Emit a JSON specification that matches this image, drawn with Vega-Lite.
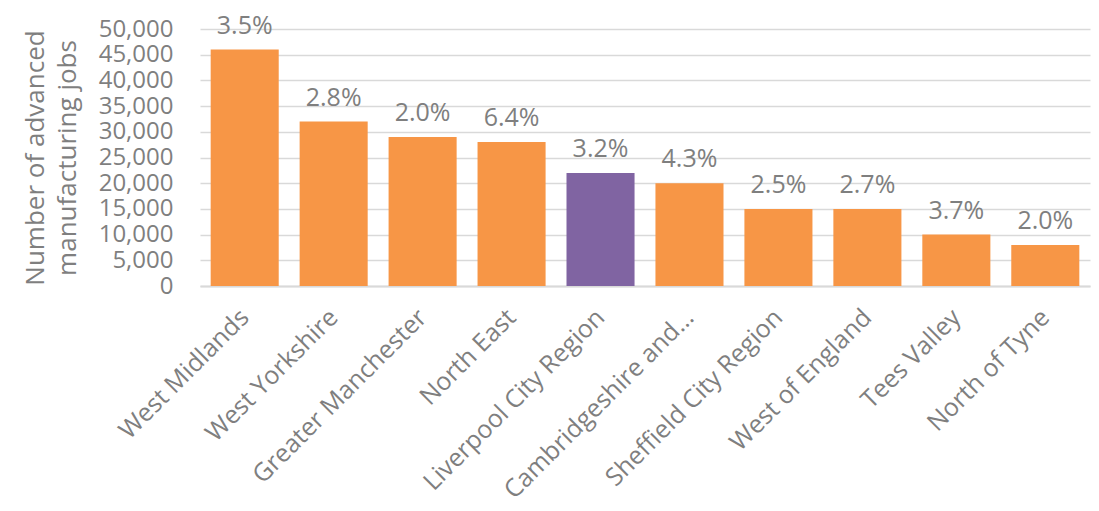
{
  "$schema": "https://vega.github.io/schema/vega-lite/v6.json",
  "width": 890,
  "height": 257,
  "autosize": {"type": "none"},
  "padding": {"left": 200, "top": 29, "right": 9, "bottom": 225},
  "background": "white",
  "data": {
    "values": [
      {"region": "West Midlands", "jobs": 46000, "pct": "3.5%", "highlight": "no"},
      {"region": "West Yorkshire", "jobs": 32000, "pct": "2.8%", "highlight": "no"},
      {"region": "Greater Manchester", "jobs": 29000, "pct": "2.0%", "highlight": "no"},
      {"region": "North East", "jobs": 28000, "pct": "6.4%", "highlight": "no"},
      {"region": "Liverpool City Region", "jobs": 22000, "pct": "3.2%", "highlight": "yes"},
      {"region": "Cambridgeshire and…", "jobs": 20000, "pct": "4.3%", "highlight": "no"},
      {"region": "Sheffield City Region", "jobs": 15000, "pct": "2.5%", "highlight": "no"},
      {"region": "West of England", "jobs": 15000, "pct": "2.7%", "highlight": "no"},
      {"region": "Tees Valley", "jobs": 10000, "pct": "3.7%", "highlight": "no"},
      {"region": "North of Tyne", "jobs": 8000, "pct": "2.0%", "highlight": "no"}
    ]
  },
  "config": {
    "font": "Open Sans",
    "view": {"stroke": null}
  },
  "encoding": {
    "x": {
      "field": "region",
      "type": "nominal",
      "sort": null,
      "scale": {"paddingInner": 0.235, "paddingOuter": 0.12},
      "axis": {
        "title": null,
        "labelAngle": -45,
        "labelAlign": "right",
        "labelBaseline": "middle",
        "labelFontSize": 25,
        "labelColor": "#7f7f7f",
        "labelFont": "Open Sans",
        "labelPadding": 27,
        "labelLimit": 400,
        "ticks": false,
        "domainColor": "#d9d9d9",
        "domainWidth": 2
      }
    },
    "y": {
      "field": "jobs",
      "type": "quantitative",
      "scale": {"domain": [0, 50000]},
      "axis": {
        "title": ["Number of advanced", "manufacturing jobs"],
        "titleFontSize": 26,
        "titleFont": "Open Sans",
        "titleFontWeight": "normal",
        "titleColor": "#7f7f7f",
        "titlePadding": 18,
        "titleLineHeight": 32,
        "values": [0, 5000, 10000, 15000, 20000, 25000, 30000, 35000, 40000, 45000, 50000],
        "format": ",d",
        "labelFontSize": 24,
        "labelColor": "#7f7f7f",
        "labelFont": "Open Sans",
        "labelPadding": 27,
        "ticks": false,
        "domain": false,
        "gridColor": "#d9d9d9",
        "gridWidth": 1.5
      }
    }
  },
  "layer": [
    {
      "mark": {"type": "bar"},
      "encoding": {
        "color": {
          "field": "highlight",
          "type": "nominal",
          "scale": {"domain": ["no", "yes"], "range": ["#F79646", "#8064A2"]},
          "legend": null
        }
      }
    },
    {
      "mark": {"type": "text", "baseline": "bottom", "dy": -11, "fontSize": 25, "color": "#7f7f7f", "font": "Open Sans"},
      "encoding": {"text": {"field": "pct"}}
    }
  ]
}
